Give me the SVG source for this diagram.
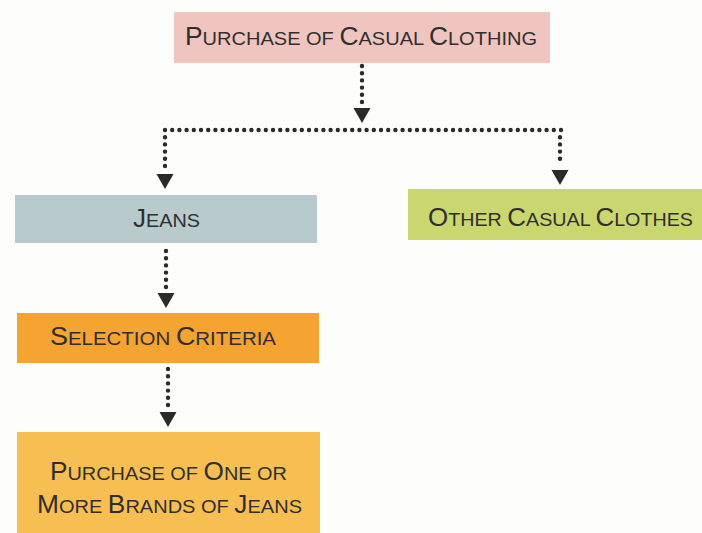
<svg xmlns="http://www.w3.org/2000/svg" xmlns:xlink="http://www.w3.org/1999/xlink" width="702" height="533" viewBox="0 0 702 533">
<style>
.lbl{font-family:"Liberation Sans",Arial,sans-serif;font-size:25px;fill:#2f2f2f;}
.sc{font-size:19px;}
.dot{fill:none;stroke:#2a2a2a;stroke-width:4.4;stroke-linecap:round;stroke-dasharray:0 7.2;}
</style>
<defs>
<polygon id="ah" points="-8.5,0 8.5,0 0,15" fill="#2a2a2a"/>
</defs>
<rect width="702" height="533" fill="#fdfdfc"/>
<g id="connectors">
<path class="dot" d="M362,66 V102"/>
<use xlink:href="#ah" x="362" y="108"/>
<path class="dot" d="M165,130 H561"/>
<path class="dot" d="M165,137.2 V166"/>
<use xlink:href="#ah" x="165" y="174"/>
<path class="dot" d="M560,137.2 V164"/>
<use xlink:href="#ah" x="560" y="170"/>
<path class="dot" d="M166,251 V287"/>
<use xlink:href="#ah" x="166" y="293"/>
<path class="dot" d="M168,369 V405"/>
<use xlink:href="#ah" x="168" y="412"/>
</g>
<g id="n-purchase-casual">
<rect x="174" y="12" width="376" height="51" fill="#f0c5c0"/>
<text class="lbl" x="185" y="45" textLength="352" lengthAdjust="spacingAndGlyphs">P<tspan class="sc">URCHASE OF </tspan>C<tspan class="sc">ASUAL </tspan>C<tspan class="sc">LOTHING</tspan></text>
</g>
<g id="n-jeans">
<rect x="15" y="195" width="302" height="48" fill="#b9cacc"/>
<text class="lbl" x="133" y="227" textLength="67" lengthAdjust="spacingAndGlyphs">J<tspan class="sc">EANS</tspan></text>
</g>
<g id="n-other">
<rect x="408" y="189" width="294" height="51" fill="#cad66e"/>
<text class="lbl" x="428" y="226" textLength="265" lengthAdjust="spacingAndGlyphs">O<tspan class="sc">THER </tspan>C<tspan class="sc">ASUAL </tspan>C<tspan class="sc">LOTHES</tspan></text>
</g>
<g id="n-selection">
<rect x="17" y="313" width="302" height="50" fill="#f5a331"/>
<text class="lbl" x="50" y="345" textLength="226" lengthAdjust="spacingAndGlyphs">S<tspan class="sc">ELECTION </tspan>C<tspan class="sc">RITERIA</tspan></text>
</g>
<g id="n-brands">
<rect x="17" y="432" width="303" height="101" fill="#f7bf52"/>
<text class="lbl" x="50" y="480" textLength="237" lengthAdjust="spacingAndGlyphs">P<tspan class="sc">URCHASE OF </tspan>O<tspan class="sc">NE OR</tspan></text>
<text class="lbl" x="37" y="513" textLength="265" lengthAdjust="spacingAndGlyphs">M<tspan class="sc">ORE </tspan>B<tspan class="sc">RANDS OF </tspan>J<tspan class="sc">EANS</tspan></text>
</g>
</svg>
